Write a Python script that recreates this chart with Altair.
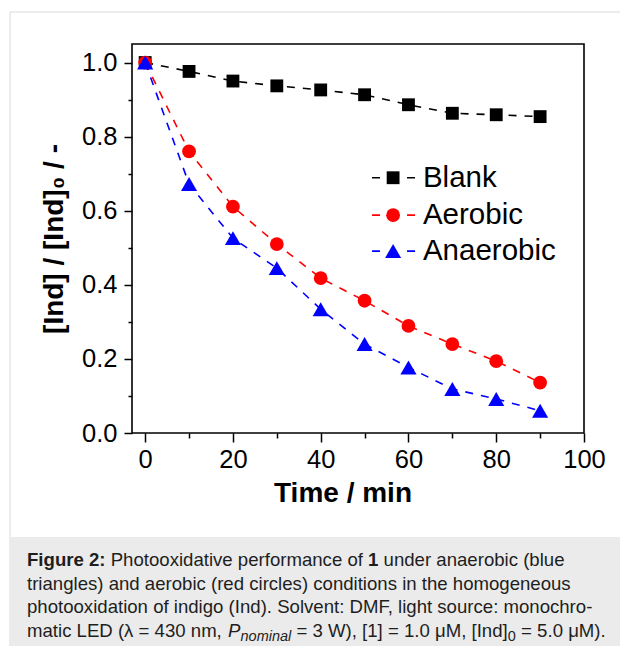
import altair as alt
import pandas as pd

# ---------------- data ----------------
time_min = [0, 10, 20, 30, 40, 50, 60, 70, 80, 90]
blank = [1.0, 0.976, 0.950, 0.937, 0.926, 0.913, 0.886, 0.863, 0.859, 0.854]
aerobic = [1.0, 0.760, 0.611, 0.510, 0.418, 0.357, 0.289, 0.240, 0.194, 0.136]
anaerobic = [1.0, 0.672, 0.526, 0.445, 0.334, 0.240, 0.177, 0.119, 0.092, 0.060]

series_names = ["Blank", "Aerobic", "Anaerobic"]
series_colors = ["#000000", "#ff0000", "#0000ff"]
series_shapes = ["square", "circle", "triangle-up"]
series_sizes = [165, 190, 260]

x_ticks = [0, 10, 20, 30, 40, 50, 60, 70, 80, 90, 100]
y_ticks = [0.0, 0.1, 0.2, 0.3, 0.4, 0.5, 0.6, 0.7, 0.8, 0.9, 1.0]

# legend rows (data coordinates)
legend_y = [0.689, 0.588, 0.491]
legend_line_x = [51.7, 61.5]
legend_marker_x = 56.5
legend_text_x = 63.3

FONT = "Liberation Sans"

rows = []
for name, vals in zip(series_names, [blank, aerobic, anaerobic]):
    for t, v in zip(time_min, vals):
        rows.append({"time": t, "value": v, "series": name})
df = pd.DataFrame(rows)

leg = pd.DataFrame({
    "series": series_names,
    "x1": [legend_line_x[0]] * 3,
    "x2": [legend_line_x[1]] * 3,
    "mx": [legend_marker_x] * 3,
    "tx": [legend_text_x] * 3,
    "ly": legend_y,
})

one = pd.DataFrame({"a": [0]})

x_scale = alt.Scale(domain=[-3, 100], nice=False, zero=False)
y_scale = alt.Scale(domain=[0, 1.05], nice=False, zero=False)

x_axis = alt.Axis(
    values=x_ticks, title="Time / min", grid=False, domain=False,
    labelExpr="datum.value % 20 == 0 ? datum.label : ''",
    tickSize={"condition": {"test": "datum.value % 20 != 0", "value": 5}, "value": 9},
    tickColor="black", tickWidth=1.5, labelColor="black", labelFont=FONT,
    labelFontSize=25.5, labelPadding=5, labelFlush=False, labelOverlap=False,
    titleFont=FONT, titleFontSize=28, titleFontWeight="bold", titleColor="black",
    titleX=210.5, titleY=68.7, titleAlign="center", titleBaseline="alphabetic",
    zindex=1,
)
y_axis = alt.Axis(
    values=y_ticks, title="[Ind] / [Ind]\u2080 / -", grid=False, domain=False,
    labelExpr="round(datum.value*10) % 2 == 0 ? format(datum.value, '.1f') : ''",
    tickSize={"condition": {"test": "round(datum.value*10) % 2 != 0", "value": 4}, "value": 8},
    tickColor="black", tickWidth=1.5, labelColor="black", labelFont=FONT,
    labelFontSize=25.5, labelPadding=7, labelFlush=False, labelOverlap=False,
    titleFont=FONT, titleFontSize=28, titleFontWeight="bold", titleColor="black",
    titleX=-70, titleY=194.5, titleAngle=270, titleAlign="center", titleBaseline="alphabetic",
    zindex=1,
)

def X(field):
    return alt.X(f"{field}:Q", scale=x_scale, axis=x_axis)

def Y(field):
    return alt.Y(f"{field}:Q", scale=y_scale, axis=y_axis)

layers = []

# page decoration: outer border and caption panel
layers.append(alt.Chart(one).mark_rect(fillOpacity=0, stroke="#d9d9d9", strokeWidth=1).encode(
    x=alt.value(-122), x2=alt.value(495), y=alt.value(-32), y2=alt.value(610)))
layers.append(alt.Chart(one).mark_rect(fill="#ebebeb").encode(
    x=alt.value(-122), x2=alt.value(488), y=alt.value(493), y2=alt.value(602)))

# dashed connecting lines
for name, col in zip(series_names, series_colors):
    layers.append(alt.Chart(df[df.series == name]).mark_line(
        color=col, strokeWidth=1.6, strokeDash=[8, 8]).encode(x=X("time"), y=Y("value")))

# markers
for name, col, shp, sz in zip(series_names, series_colors, series_shapes, series_sizes):
    layers.append(alt.Chart(df[df.series == name]).mark_point(
        shape=shp, filled=True, color=col, size=sz, opacity=1).encode(x=X("time"), y=Y("value")))

# legend
for i, (name, col, shp, sz) in enumerate(zip(series_names, series_colors, series_shapes, series_sizes)):
    d = leg.iloc[[i]]
    layers.append(alt.Chart(d).mark_rule(color=col, strokeWidth=1.6, strokeDash=[8, 27]).encode(
        x=X("x1"), x2="x2:Q", y=Y("ly")))
    layers.append(alt.Chart(d).mark_point(shape=shp, filled=True, color=col, size=sz, opacity=1).encode(
        x=X("mx"), y=Y("ly")))
    layers.append(alt.Chart(d).mark_text(align="left", baseline="middle", font=FONT, fontSize=29.5,
                                         color="black").encode(x=X("tx"), y=Y("ly"), text="series:N"))

# caption
CAP = 18.6
SUB = 14.5
def txt(s, x, y, size=CAP, weight="normal", style="normal"):
    return alt.Chart(one).mark_text(text=s, align="left", baseline="alphabetic", font=FONT,
                                    fontSize=size, fontWeight=weight, fontStyle=style,
                                    color="#1e1e1e").encode(x=alt.value(x), y=alt.value(y))

L1, L2, L3, L4 = 522, 546, 569, 593
layers += [
    txt("Figure 2:", -105, L1, weight="bold"),
    txt("Photooxidative performance of", -21.3, L1),
    txt("1", 236.1, L1, weight="bold"),
    txt("under anaerobic (blue", 251.6, L1),
    txt("triangles) and aerobic (red circles) conditions in the homogeneous", -105, L2),
    txt("photooxidation of indigo (Ind). Solvent: DMF, light source: monochro-", -105, L3),
    txt("matic LED (\u03bb = 430 nm,", -105, L4),
    txt("P", 96.1, L4, style="italic"),
    txt("nominal", 108.5, L4 + 4, size=SUB, style="italic"),
    txt("= 3 W), [1] = 1.0 \u03bcM, [Ind]", 164.5, L4),
    txt("0", 375.8, L4 + 4, size=SUB),
    txt("= 5.0 \u03bcM).", 389.1, L4),
]

chart = alt.layer(*layers).properties(
    width=452, height=389,
    autosize=alt.AutoSizeParams(type="none"),
    padding={"left": 132, "top": 44, "right": 36, "bottom": 213},
    background="white",
).configure_view(stroke="black", strokeWidth=1.6)

chart.save("out.html", embed_options={"renderer": "svg", "actions": False})
